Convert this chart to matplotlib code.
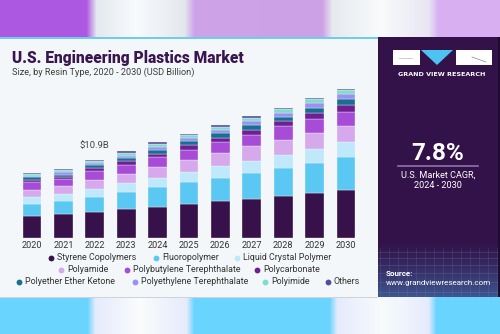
import numpy as np
import matplotlib
matplotlib.use("Agg")
import matplotlib.pyplot as plt
from matplotlib.colors import to_rgb
from matplotlib.patches import Rectangle, Polygon

years = ["2020", "2021", "2022", "2023", "2024", "2025", "2026", "2027", "2028", "2029", "2030"]
segments = ["Styrene Copolymers", "Fluoropolymer", "Liquid Crystal Polymer", "Polyamide",
            "Polybutylene Terephthalate", "Polycarbonate", "Polyether Ether Ketone",
            "Polyethylene Terephthalate", "Polyimide", "Others"]
colors = ["#37124a", "#5bc8f3", "#bfe8fb", "#d6a8ec", "#a64cd6", "#6d1f93",
          "#16708f", "#9b90f4", "#80dccb", "#5b4a9b"]

styrene = [3.06, 3.29, 3.66, 3.99, 4.35, 4.73, 5.14, 5.42, 5.80, 6.26, 6.67]
fluoro = [1.71, 1.81, 2.04, 2.40, 2.74, 3.02, 3.20, 3.61, 3.93, 4.21, 4.63]
lcp = [0.88, 0.97, 1.11, 1.21, 1.29, 1.43, 1.63, 1.71, 1.81, 1.85, 1.99]
polyamide = [1.07, 1.11, 1.25, 1.29, 1.53, 1.71, 1.85, 2.04, 2.04, 2.22, 2.27]
pbt = [1.01, 1.01, 1.21, 1.29, 1.29, 1.39, 1.49, 1.57, 1.95, 1.99, 1.99]
pc = [0.38, 0.32, 0.42, 0.46, 0.51, 0.60, 0.65, 0.70, 0.70, 0.88, 0.93]
peek = [0.32, 0.32, 0.42, 0.46, 0.56, 0.60, 0.65, 0.65, 0.65, 0.70, 0.79]
pet = [0.24, 0.32, 0.28, 0.32, 0.38, 0.42, 0.42, 0.51, 0.56, 0.60, 0.74]
polyimide = [0.24, 0.28, 0.32, 0.38, 0.42, 0.38, 0.46, 0.46, 0.46, 0.60, 0.56]
others = [0.18, 0.18, 0.18, 0.24, 0.24, 0.24, 0.18, 0.24, 0.24, 0.18, 0.14]
series = [styrene, fluoro, lcp, polyamide, pbt, pc, peek, pet, polyimide, others]

annot_year = "2022"
annot_text = "$10.9B"

W, H = 500, 334
fig = plt.figure(figsize=(5.0, 3.34), dpi=100)

# ---------- background image ----------
def band(stops, width):
    xs = np.arange(width)
    pos = [s[0] for s in stops]
    cols = np.array([to_rgb(s[1]) for s in stops])
    return np.stack([np.interp(xs, pos, cols[:, k]) for k in range(3)], axis=-1)

img = np.ones((H, W, 3))
top = band([(0, "#ad58e0"), (86, "#ad58e0"), (96, "#e4e8ef"), (135, "#f8fbfc"), (184, "#e4e8ee"),
            (194, "#cfa3e7"), (322, "#cda1e6"), (332, "#e6eaef"), (380, "#f9fbfc"), (428, "#e8e6f3"),
            (438, "#d8b0f2"), (500, "#d8b0f2")], W)
bot = band([(0, "#69d4fd"), (87, "#69d4fd"), (95, "#e6ebfc"), (140, "#fafcfd"), (186, "#e6ebfc"),
            (194, "#69d4fd"), (329, "#69d4fd"), (337, "#e6ebfc"), (382, "#f8fbfd"), (428, "#e6ebfc"),
            (436, "#69d4fd"), (500, "#69d4fd")], W)
img[:37] = top[None, :, :]
img[297:] = bot[None, :, :]
img[37:297, :378] = to_rgb("#f3f7fa")
img[37:39, :378] = to_rgb("#6ccdef")
img[297:298, :378] = to_rgb("#cfd3d8")
panel = np.array(to_rgb("#321248"))
panelb = np.array(to_rgb("#3f5c96"))
for y in range(37, 297):
    t = 0.0 if y < 240 else min(1.0, (y - 240) / 60.0) ** 1.3
    img[y, 378:498] = panel * (1 - t) + panelb * t
for y in [252, 258, 265, 273, 282, 292]:
    img[y, 378:498] = img[y, 378:498] * 0.8 + 0.2 * np.array(to_rgb("#7f95c8"))
for x in range(380, 498, 9):
    for y in range(248, 297):
        img[y, x] = img[y, x] * 0.85 + 0.15 * np.array(to_rgb("#7f95c8"))
img[37:297, 498:500] = to_rgb("#1e0c2c")

bg = fig.add_axes([0, 0, 1, 1])
bg.imshow(img, extent=(0, W, H, 0), aspect="auto", interpolation="bilinear")
bg.set_xlim(0, W)
bg.set_ylim(H, 0)
bg.axis("off")

# ---------- titles ----------
bg.text(12, 58, "U.S. Engineering Plastics Market", fontsize=11.2, fontweight=900,
        color="#3a1650", family="Roboto", va="center", ha="left")
bg.text(12, 72.5, "Size, by Resin Type, 2020 - 2030 (USD Billion)", fontsize=6.6,
        color="#3d3d3d", family="Roboto", va="center", ha="left")

# ---------- chart ----------
x0_px, x1_px = 16.3, 361.7
base_px, ymax = 238.0, 22.0
px_per_unit = 7.19
ax = fig.add_axes([x0_px / W, (H - base_px) / H, (x1_px - x0_px) / W, ymax * px_per_unit / H])
ax.set_xlim(-0.5, len(years) - 0.5)
ax.set_ylim(0, ymax)
xs = np.arange(len(years))
bottom = np.zeros(len(years))
for vals, c in zip(series, colors):
    v = np.array(vals)
    ax.bar(xs, v, width=0.6, bottom=bottom, color=c, edgecolor="#f3f7fa", linewidth=0.25)
    bottom += v
ax.set_xticks(xs)
ax.set_xticklabels(years, fontsize=6.6, color="#333333", family="Roboto")
ax.tick_params(axis="x", length=0, pad=2.5)
ax.set_yticks([])
for s in ax.spines.values():
    s.set_visible(False)
ax.patch.set_visible(False)
i = years.index(annot_year)
ax.text(i, bottom[i] + 1.3, annot_text, ha="center", va="bottom", fontsize=6.8,
        color="#444444", family="Roboto")

# ---------- legend ----------
legend_rows = [
    [(0, 51), (1, 156), (2, 237)],
    [(3, 61), (4, 127), (5, 257)],
    [(6, 19), (7, 135), (8, 265), (9, 328)],
]
row_y = [258, 270, 282]
for row, y in zip(legend_rows, row_y):
    for idx, mx in row:
        bg.plot(mx, y, "o", ms=4.2, color=colors[idx], mec="none")
        bg.text(mx + 6, y, segments[idx], fontsize=6.4, color="#333333", family="Roboto",
                va="center", ha="left")

# ---------- right panel ----------
bg.add_patch(Rectangle((393, 50), 27, 15, color="white", lw=0))
bg.add_patch(Polygon([(421, 50), (453, 50), (437, 65)], closed=True, color="#4cc3f1", lw=0))
bg.add_patch(Rectangle((456, 50), 36, 15, color="white", lw=0))
bg.plot([399, 412], [57.5, 57.5], color="#bbbbbb", lw=0.5)
bg.plot([472, 486], [57, 62], color="#888888", lw=0.5)
bg.text(442, 74, "GRAND VIEW RESEARCH", fontsize=4.6, fontweight="bold", color="white",
        family="DejaVu Sans", ha="center", va="center")
bg.text(438, 153, "7.8%", fontsize=17.5, fontweight="bold", color="white", family="Roboto",
        ha="center", va="center")
bg.plot([398, 478], [165.5, 165.5], color="#8e72a8", lw=1.2)
bg.text(438, 175, "U.S. Market CAGR,", fontsize=6.6, color="white", family="Roboto",
        ha="center", va="center")
bg.text(438, 185.5, "2024 - 2030", fontsize=6.6, color="white", family="Roboto",
        ha="center", va="center")
bg.text(386, 273, "Source:", fontsize=5.8, fontweight="bold", color="white", family="Roboto",
        ha="left", va="center")
bg.text(386, 283, "www.grandviewresearch.com", fontsize=5.8, color="white", family="Roboto",
        ha="left", va="center")

fig.savefig("out.png", dpi=100)
